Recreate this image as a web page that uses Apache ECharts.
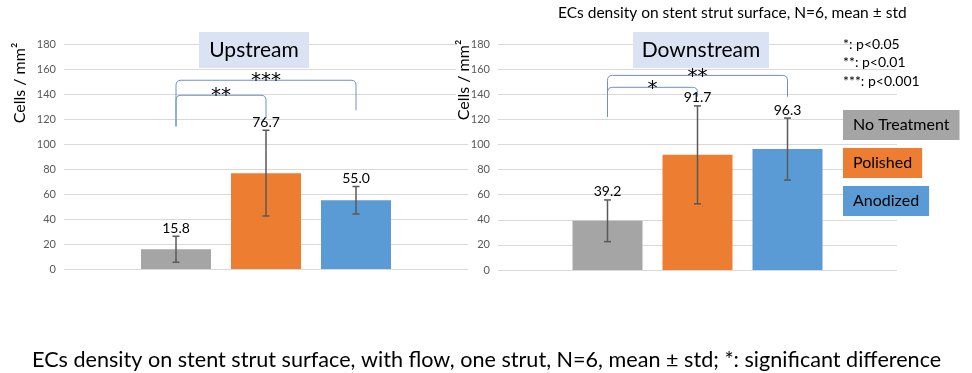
<!DOCTYPE html>
<html>
<head>
<meta charset="utf-8">
<script src="https://cdn.jsdelivr.net/npm/echarts@6.0.0/dist/echarts.min.js"></script>
<style>
  html, body { margin: 0; padding: 0; background: #fff; }
  #chart { width: 972px; height: 373px; }
</style>
</head>
<body>
<div id="chart"></div>
<script>
// data
const groups = ['Upstream', 'Downstream']
const treatments = ['No Treatment', 'Polished', 'Anodized']
const upMean = [15.8, 76.7, 55.0]
const upStd = [10.4, 34.3, 11.0]
const downMean = [39.2, 91.7, 96.3]
const downStd = [16.6, 39.0, 24.7]
// [from bar, to bar, bracket level, left leg end, right leg end, stars]
const upSig = [[0, 1, 139, 114, 121, '**'], [0, 2, 151, 114, 127, '***']]
const downSig = [[0, 1, 145.5, 122, 138, '*'], [0, 2, 155, 122, 138, '**']]
const yMax = 180
const yStep = 20

const colors = ['#a5a5a5', '#ed7d31', '#5b9bd5']
const FONT = 'Lato'
const BAR_W = 70
const BAR_GAP = 20
const BAR_STEP = BAR_W + BAR_GAP

const chart = echarts.init(document.getElementById('chart'))

function errorItem(params, api) {
  const idx = api.value(3)
  const mean = api.value(4)
  const c = api.coord([0, mean])
  const x = c[0] + (idx - 1) * BAR_STEP
  const lo = api.coord([0, api.value(1)])[1]
  const hi = api.coord([0, api.value(2)])[1]
  const st = { stroke: '#595959', lineWidth: 1.5 }
  return {
    type: 'group',
    children: [
      { type: 'line', shape: { x1: x, y1: lo, x2: x, y2: hi }, style: st },
      { type: 'line', shape: { x1: x - 3.5, y1: lo, x2: x + 3.5, y2: lo }, style: st },
      { type: 'line', shape: { x1: x - 3.5, y1: hi, x2: x + 3.5, y2: hi }, style: st },
      {
        type: 'text', x: x, y: hi - 1,
        style: { text: mean.toFixed(1), textAlign: 'center', textVerticalAlign: 'bottom', font: '14px ' + FONT, fill: '#000' }
      }
    ]
  }
}

function bracketItem(params, api) {
  const from = api.value(0)
  const to = api.value(1)
  const base = api.coord([0, api.value(2)])
  const x1 = base[0] + (from - 1) * BAR_STEP
  const x2 = base[0] + (to - 1) * BAR_STEP
  const y = base[1]
  const yl = api.coord([0, api.value(3)])[1]
  const yr = api.coord([0, api.value(4)])[1]
  const r = 5
  const d = 'M' + x1 + ',' + yl + ' L' + x1 + ',' + (y + r) + ' Q' + x1 + ',' + y + ' ' + (x1 + r) + ',' + y +
    ' L' + (x2 - r) + ',' + y + ' Q' + x2 + ',' + y + ' ' + x2 + ',' + (y + r) + ' L' + x2 + ',' + yr
  return {
    type: 'group',
    children: [
      { type: 'path', shape: { pathData: d }, style: { stroke: '#6f8fc9', lineWidth: 1, fill: null } },
      {
        type: 'text', x: (x1 + x2) / 2, y: y + 1,
        style: { text: api.value(5), textAlign: 'center', textVerticalAlign: 'middle', font: '20px "DejaVu Sans"', fill: '#000' }
      }
    ]
  }
}

const means = [upMean, downMean]
const stds = [upStd, downStd]
const sigs = [upSig, downSig]
const series = []
for (let g = 0; g < 2; g++) {
  for (let k = 0; k < treatments.length; k++) {
    series.push({
      type: 'bar',
      name: treatments[k],
      xAxisIndex: g,
      yAxisIndex: g,
      data: [means[g][k]],
      barWidth: BAR_W,
      barGap: (BAR_GAP / BAR_W * 100) + '%',
      itemStyle: { color: colors[k] }
    })
  }
  const errData = means[g].map(function(m, k) {
    return [0, m - stds[g][k], m + stds[g][k], k, m]
  })
  series.push({
    type: 'custom',
    xAxisIndex: g,
    yAxisIndex: g,
    renderItem: errorItem,
    encode: { x: 0, y: [1, 2] },
    data: errData,
    z: 5,
    silent: true
  })
  series.push({
    type: 'custom',
    xAxisIndex: g,
    yAxisIndex: g,
    renderItem: bracketItem,
    encode: { x: -1, y: [2] },
    data: sigs[g],
    z: 6,
    silent: true
  })
}

function yAxis(g) {
  return {
    type: 'value',
    gridIndex: g,
    min: 0,
    max: yMax,
    interval: yStep,
    axisLine: { show: false },
    axisTick: { show: false },
    axisLabel: { color: '#595959', fontSize: 11, fontFamily: FONT, margin: 8 },
    splitLine: { lineStyle: { color: '#d9d9d9', width: 1 } }
  }
}
function xAxis(g) {
  return {
    type: 'category',
    gridIndex: g,
    data: [groups[g]],
    axisLine: { show: false },
    axisTick: { show: false },
    axisLabel: { show: false }
  }
}

function boxTitle(text, x, y, w, h) {
  return {
    type: 'group',
    left: x,
    top: y,
    z: 20,
    children: [
      { type: 'rect', z: 20, shape: { x: 0, y: 0, width: w, height: h }, style: { fill: '#dae3f3' } },
      { type: 'text', z: 21, x: w / 2, y: h / 2, style: { text: text, textAlign: 'center', textVerticalAlign: 'middle', font: '21px ' + FONT, fill: '#000' } }
    ]
  }
}
function yName(x, y) {
  return {
    type: 'text',
    x: x,
    y: y,
    rotation: Math.PI / 2,
    z: 10,
    style: {
      text: 'Cells / mm²', textAlign: 'center', textVerticalAlign: 'middle',
      font: '16px ' + FONT, fill: '#000', backgroundColor: '#fff', padding: [0, 2]
    }
  }
}

const option = {
  backgroundColor: '#fff',
  animation: false,
  textStyle: { fontFamily: FONT },
  grid: [
    { left: 64, width: 404, top: 44, bottom: 104 },
    { left: 498, width: 399, top: 44, bottom: 103 }
  ],
  xAxis: [xAxis(0), xAxis(1)],
  yAxis: [yAxis(0), yAxis(1)],
  title: [
    {
      text: 'ECs density on stent strut surface, N=6, mean ± std',
      left: 553, top: 0,
      textStyle: { fontSize: 15.5, fontWeight: 'normal', color: '#000', fontFamily: FONT }
    },
    {
      text: '*: p<0.05\n**: p<0.01\n***: p<0.001',
      left: 838, top: 30,
      textStyle: { fontSize: 14, lineHeight: 18.5, fontWeight: 'normal', color: '#000', fontFamily: FONT }
    },
    {
      text: 'ECs density on stent strut surface, with flow, one strut, N=6, mean ± std; *: significant difference',
      left: 27, top: 344,
      textStyle: { fontSize: 21.6, fontWeight: 'normal', color: '#000', fontFamily: FONT }
    }
  ],
  legend: {
    orient: 'vertical',
    left: 833,
    top: 105,
    itemGap: 8,
    itemWidth: 0,
    itemHeight: 0,
    icon: 'rect',
    selectedMode: false,
    textStyle: { fontSize: 16, lineHeight: 18, color: '#000', fontFamily: FONT, padding: [6, 10] },
    data: treatments.map(function(t, k) {
      return { name: t, textStyle: { backgroundColor: colors[k] } }
    })
  },
  graphic: [
    boxTitle('Upstream', 199, 32, 110, 36),
    boxTitle('Downstream', 633, 32, 136, 36),
    yName(20, 83),
    yName(464, 80)
  ],
  series: series
}

chart.setOption(option)
</script>
</body>
</html>
